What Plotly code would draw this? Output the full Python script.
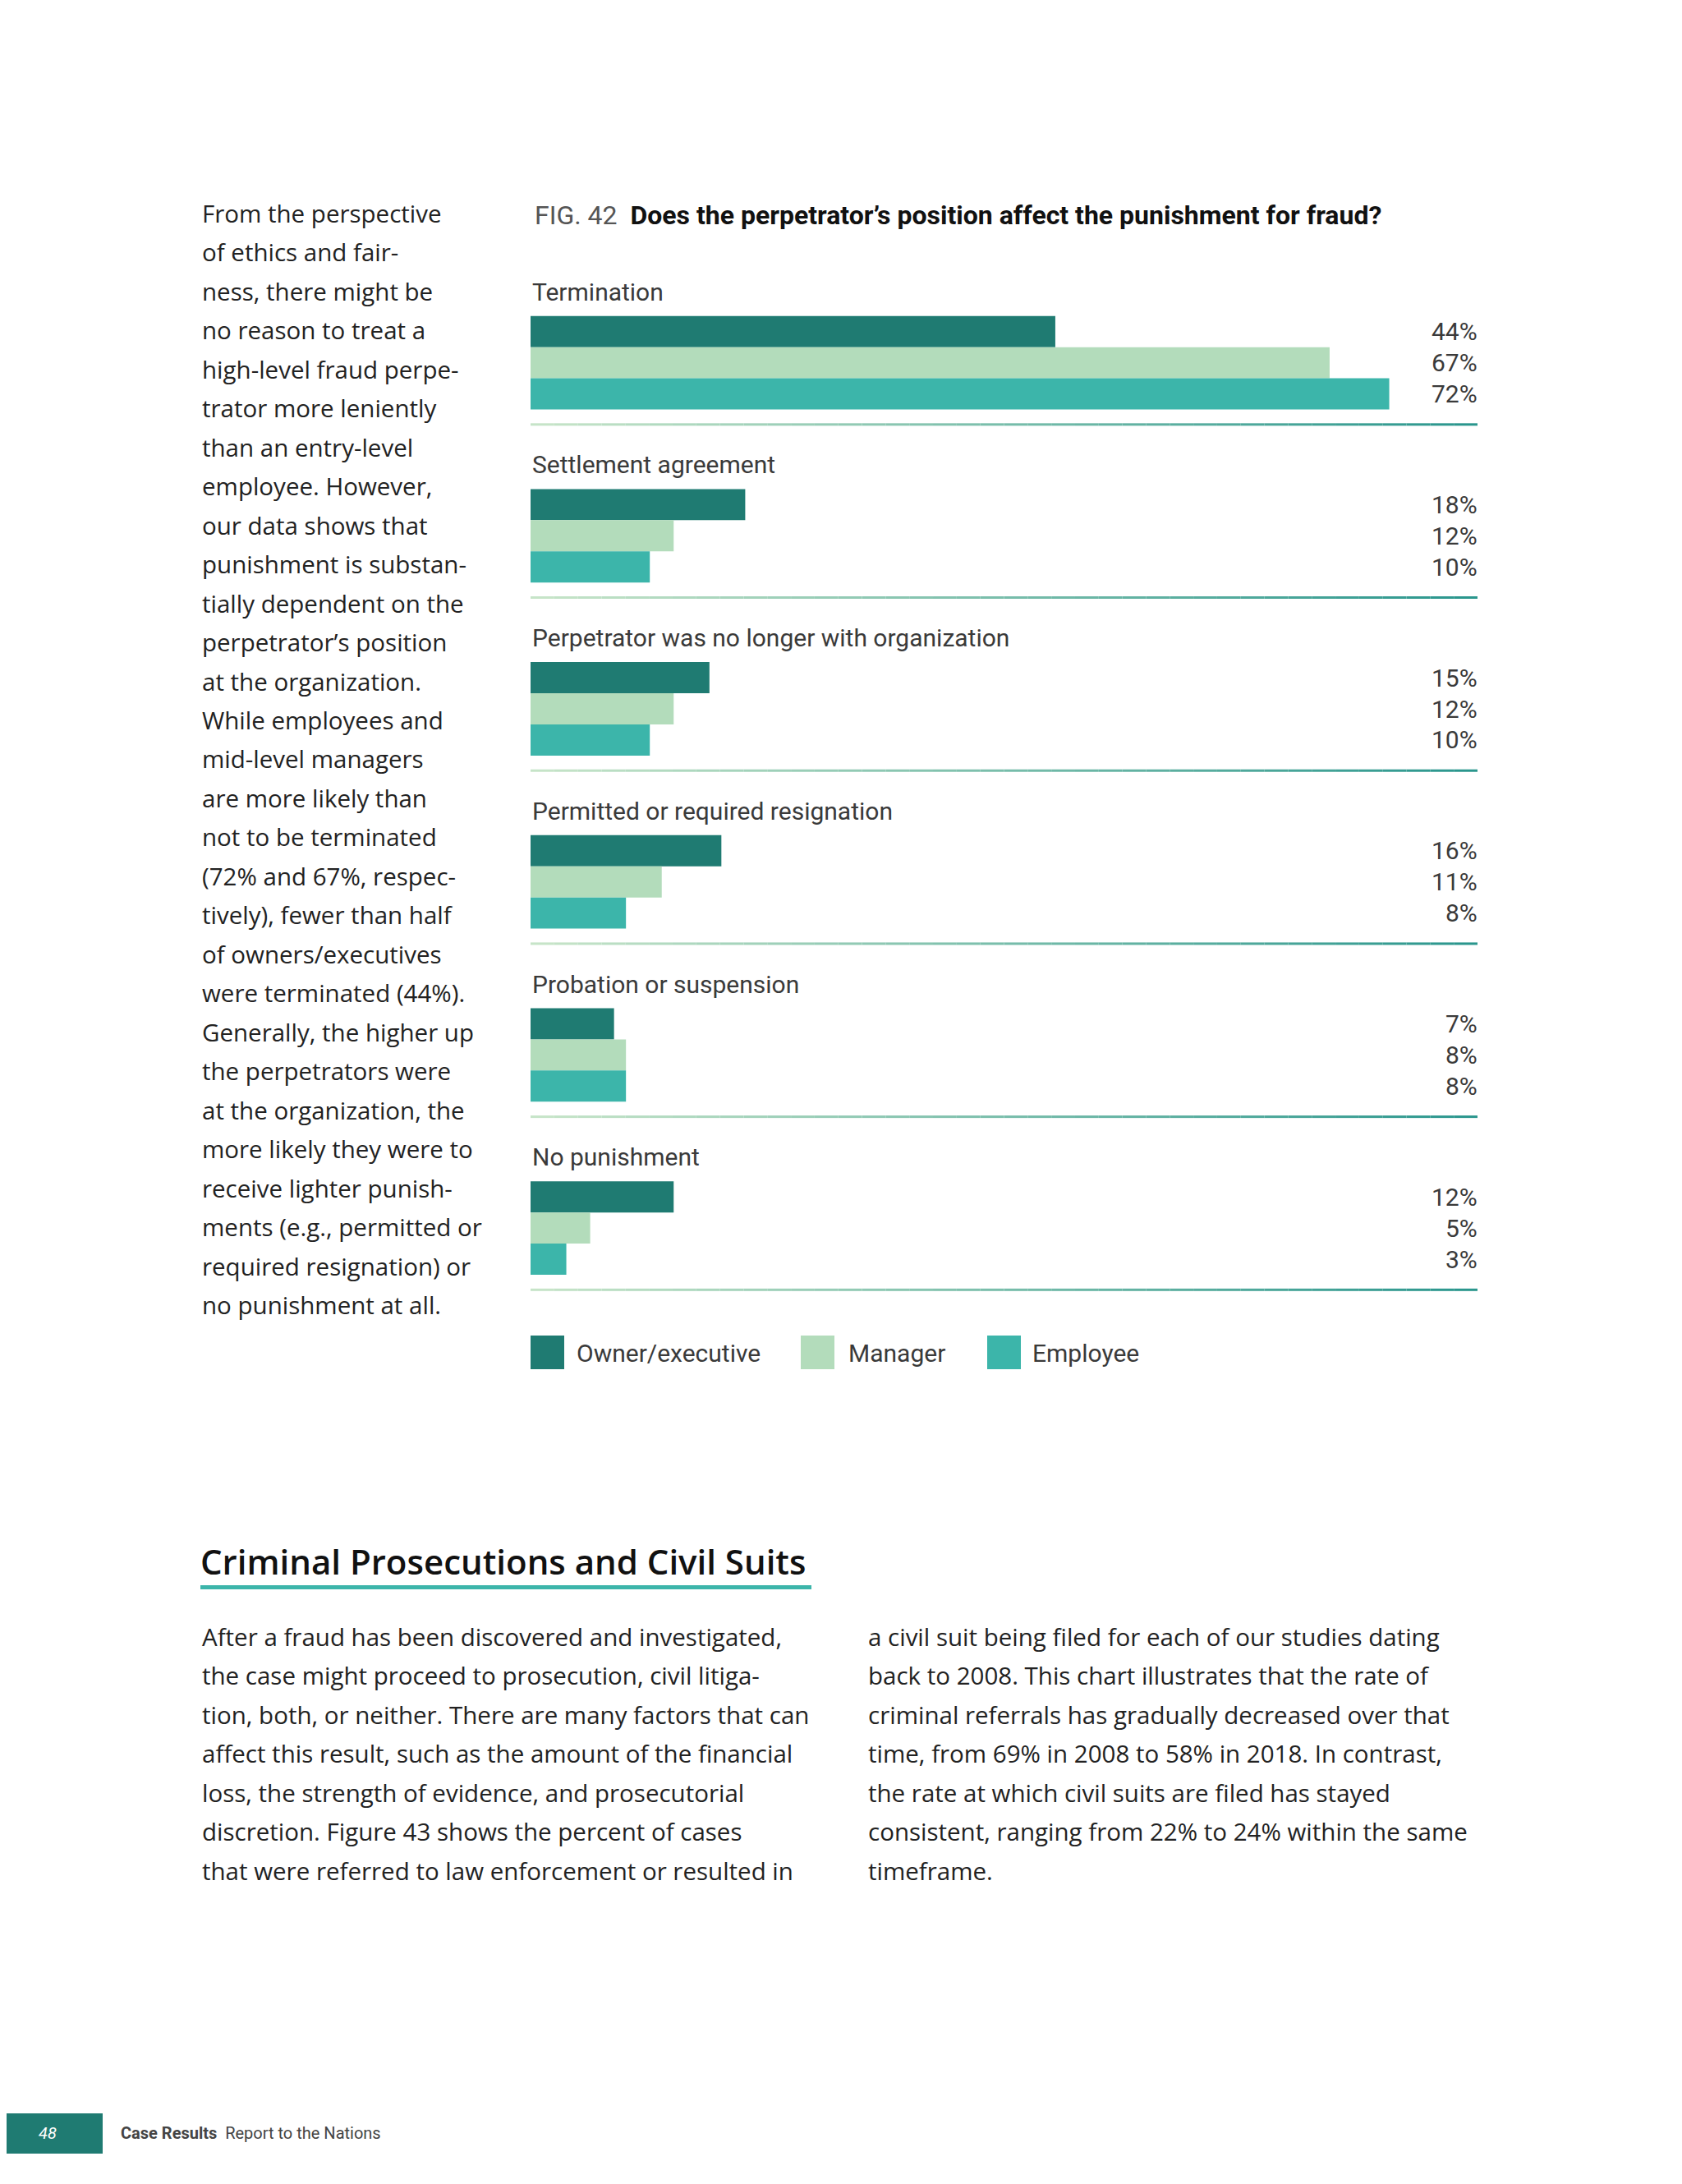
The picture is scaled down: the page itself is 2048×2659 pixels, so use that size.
import plotly.graph_objects as go

W, H = 2048, 2659

# ---------------- data ----------------
categories = ["Termination", "Settlement agreement", "Perpetrator was no longer with organization",
              "Permitted or required resignation", "Probation or suspension", "No punishment"]
series_names = ["Owner/executive", "Manager", "Employee"]
owner_exec = [44, 18, 15, 16, 7, 12]
manager = [67, 12, 12, 11, 8, 5]
employee = [72, 10, 10, 8, 8, 3]
series_values = [owner_exec, manager, employee]
colors = ["#1f7b72", "#b3dcbb", "#3cb5aa"]

sidebar_lines = [
    "From the perspective", "of ethics and fair-", "ness, there might be", "no reason to treat a",
    "high-level fraud perpe-", "trator more leniently", "than an entry-level", "employee. However,",
    "our data shows that", "punishment is substan-", "tially dependent on the", "perpetrator’s position",
    "at the organization.", "While employees and", "mid-level managers", "are more likely than",
    "not to be terminated", "(72% and 67%, respec-", "tively), fewer than half", "of owners/executives",
    "were terminated (44%).", "Generally, the higher up", "the perpetrators were", "at the organization, the",
    "more likely they were to", "receive lighter punish-", "ments (e.g., permitted or",
    "required resignation) or", "no punishment at all.",
]
para_left = [
    "After a fraud has been discovered and investigated,",
    "the case might proceed to prosecution, civil litiga-",
    "tion, both, or neither. There are many factors that can",
    "affect this result, such as the amount of the financial",
    "loss, the strength of evidence, and prosecutorial",
    "discretion. Figure 43 shows the percent of cases",
    "that were referred to law enforcement or resulted in",
]
para_right = [
    "a civil suit being filed for each of our studies dating",
    "back to 2008. This chart illustrates that the rate of",
    "criminal referrals has gradually decreased over that",
    "time, from 69% in 2008 to 58% in 2018. In contrast,",
    "the rate at which civil suits are filed has stayed",
    "consistent, ranging from 22% to 24% within the same",
    "timeframe.",
]

# ---------------- layout helpers ----------------
OFF = 8  # default page body margin in the browser

def px(x):
    return (x - OFF) / W

def py(y):
    return 1 - (y - OFF) / H

CHART_FONT = "Roboto, 'Liberation Sans', sans-serif"
BODY_FONT = "'Open Sans', 'Noto Sans', sans-serif"
TXT = "#3a3a3a"
BODY_SIZE = 29.5

X0, X1 = 646, 1799            # plot area in pixels
XMAX = 79.4                   # percent at right edge
G0, GSTEP = 441.6 - OFF, 210.7  # first group centre (px) and group spacing (px)
r_top = -G0 / GSTEP
r_bot = r_top + H / GSTEP
BAR_UNIT = (1 - 0.46) / 3     # bar thickness in group units

fig = go.Figure()
ypos = list(range(len(categories)))
for name, vals, col in zip(series_names, series_values, colors):
    fig.add_trace(go.Bar(
        y=ypos, x=vals, orientation="h", name=name,
        marker=dict(color=col, line=dict(width=0)),
        hoverinfo="x+name", showlegend=False,
    ))

annotations = []
shapes = []

def lerp(c1, c2, t):
    a = [int(c1[i:i + 2], 16) for i in (1, 3, 5)]
    b = [int(c2[i:i + 2], 16) for i in (1, 3, 5)]
    return "#%02x%02x%02x" % tuple(round(a[k] + (b[k] - a[k]) * t) for k in range(3))

NSEG = 40
for g, cat in enumerate(categories):
    annotations.append(dict(text=cat, x=px(X0), xref="paper", y=g - 0.41, yref="y",
                            xanchor="left", yanchor="middle", showarrow=False,
                            font=dict(family=CHART_FONT, size=30, color=TXT)))
    for s, vals in enumerate(series_values):
        annotations.append(dict(text=f"{vals[g]}%", x=px(X1 + 2), xref="paper",
                                y=g + (s - 1) * BAR_UNIT, yref="y",
                                xanchor="right", yanchor="middle", showarrow=False,
                                font=dict(family=CHART_FONT, size=30, color=TXT)))
    ysep = g + 0.357
    for k in range(NSEG):
        xa = X0 + (X1 - X0) * k / NSEG
        xb = X0 + (X1 - X0) * (k + 1) / NSEG
        shapes.append(dict(type="line", xref="paper", yref="y", x0=px(xa), x1=px(xb),
                           y0=ysep, y1=ysep,
                           line=dict(color=lerp("#c6e4c8", "#2a968d", k / (NSEG - 1)), width=3)))

# title
annotations.append(dict(
    text="<span style='color:#555555'>FIG. 42</span>  <b>Does the perpetrator’s position affect the punishment for fraud?</b>",
    x=px(649), y=py(262), xref="paper", yref="paper", xanchor="left", yanchor="middle",
    showarrow=False, font=dict(family=CHART_FONT, size=32, color="#111111")))

# legend (custom)
leg_sq = [646, 975, 1202]
leg_tx = [700, 1031, 1255]
for name, col, sx, tx in zip(series_names, colors, leg_sq, leg_tx):
    shapes.append(dict(type="rect", xref="paper", yref="paper", x0=px(sx), x1=px(sx + 41),
                       y0=py(1667), y1=py(1626), fillcolor=col, line=dict(width=0)))
    annotations.append(dict(text=name, x=px(tx), y=py(1647), xref="paper", yref="paper",
                            xanchor="left", yanchor="middle", showarrow=False,
                            font=dict(family=CHART_FONT, size=30, color=TXT)))

# sidebar text
for i, line in enumerate(sidebar_lines):
    annotations.append(dict(text=line, x=px(244), y=py(259.4 + i * 47.47), xref="paper", yref="paper",
                            xanchor="left", yanchor="middle", showarrow=False,
                            font=dict(family=BODY_FONT, size=BODY_SIZE, color="#222222")))

# section heading
annotations.append(dict(text="Criminal Prosecutions and Civil Suits", x=px(242), y=py(1900),
                        xref="paper", yref="paper", xanchor="left", yanchor="middle", showarrow=False,
                        font=dict(family=BODY_FONT, size=42, color="#111111", weight=600)))
shapes.append(dict(type="rect", xref="paper", yref="paper", x0=px(244), x1=px(988),
                   y0=py(1935), y1=py(1930), fillcolor="#3cb5aa", line=dict(width=0)))

# body paragraphs
for i, line in enumerate(para_left):
    annotations.append(dict(text=line, x=px(244), y=py(1992 + i * 47.5), xref="paper", yref="paper",
                            xanchor="left", yanchor="middle", showarrow=False,
                            font=dict(family=BODY_FONT, size=BODY_SIZE, color="#222222")))
for i, line in enumerate(para_right):
    annotations.append(dict(text=line, x=px(1055), y=py(1992 + i * 47.5), xref="paper", yref="paper",
                            xanchor="left", yanchor="middle", showarrow=False,
                            font=dict(family=BODY_FONT, size=BODY_SIZE, color="#222222")))

# footer
shapes.append(dict(type="rect", xref="paper", yref="paper", x0=px(0), x1=px(125),
                   y0=py(2622), y1=py(2573), fillcolor="#1f7b72", line=dict(width=0)))
annotations.append(dict(text="<i>48</i>", x=px(58), y=py(2597), xref="paper", yref="paper",
                        xanchor="center", yanchor="middle", showarrow=False,
                        font=dict(family=CHART_FONT, size=20, color="white")))
annotations.append(dict(text="<b>Case Results</b>  Report to the Nations", x=px(145), y=py(2597),
                        xref="paper", yref="paper", xanchor="left", yanchor="middle", showarrow=False,
                        font=dict(family=CHART_FONT, size=20, color="#444444")))

fig.update_layout(
    width=W, height=H,
    margin=dict(l=0, r=0, t=0, b=0),
    paper_bgcolor="white", plot_bgcolor="rgba(0,0,0,0)",
    barmode="group", bargap=0.46, bargroupgap=0,
    xaxis=dict(domain=[px(X0), px(X1)], range=[0, XMAX], visible=False, fixedrange=True),
    yaxis=dict(domain=[0, 1], range=[r_bot, r_top], visible=False, fixedrange=True),
    annotations=annotations, shapes=shapes,
    showlegend=False,
)

fig.write_html("out.html")
